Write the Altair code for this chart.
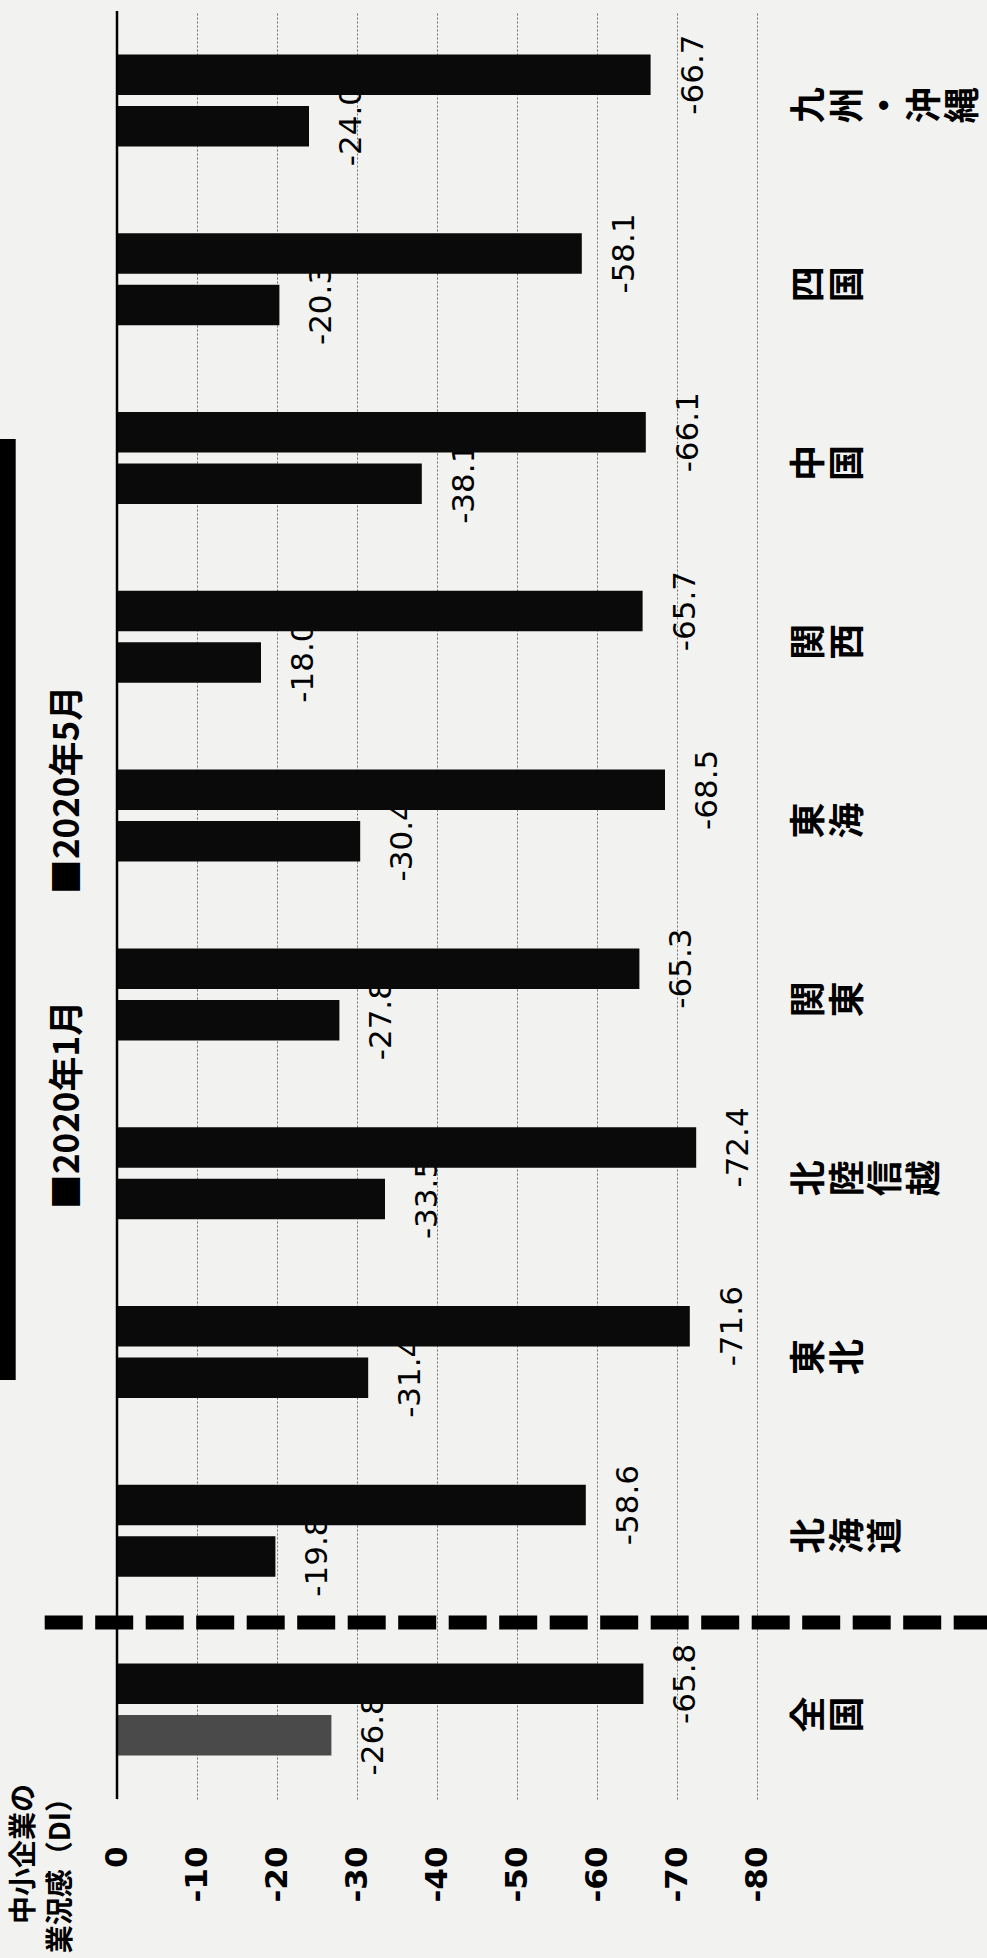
import altair as alt
import pandas as pd

# ---------------- data ----------------
regions = ["全国", "北海道", "東北", "北陸信越", "関東", "東海", "関西", "中国", "四国", "九州・沖縄"]
series_names = ["2020年1月", "2020年5月"]
jan_values = [-26.8, -19.8, -31.4, -33.5, -27.8, -30.4, -18.0, -38.1, -20.3, -24.0]
may_values = [-65.8, -58.6, -71.6, -72.4, -65.3, -68.5, -65.7, -66.1, -58.1, -66.7]
x_ticks = [0, -10, -20, -30, -40, -50, -60, -70, -80]
axis_title_lines = ["中小企業の", "業況感（DI）"]

rows = []
for r, a, b in zip(regions, jan_values, may_values):
    rows.append({"region": r, "series": series_names[0], "v": a, "label": f"{a:.1f}"})
    rows.append({"region": r, "series": series_names[1], "v": b, "label": f"{b:.1f}"})
df = pd.DataFrame(rows)

char_rows = [{"region": r, "ch": c, "i": i} for r in regions for i, c in enumerate(r)]
cdf = pd.DataFrame(char_rows)

# ---------------- layout ----------------
W, H = 640, 1788
BG = "#f2f2f0"
JP = "Noto Sans CJK JP"
order = list(reversed(regions))

y_scale = alt.Scale(domain=order, paddingInner=0.4855, paddingOuter=0.2427)
y_enc = alt.Y("region:N", scale=y_scale, axis=None)
yoff = alt.YOffset("series:N", scale=alt.Scale(domain=[series_names[1], series_names[0]], paddingInner=0.214))

x_axis = alt.Axis(
    values=x_ticks, grid=True, gridColor="#6a6a6a", gridDash=[2, 2], gridWidth=1,
    domain=False, ticks=False, tickSize=0, labelAngle=270, labelAlign="right",
    labelBaseline="middle", labelFont="DejaVu Sans", labelFontSize=31,
    labelFontWeight="bold", labelColor="#000", labelPadding=47,
    labelExpr="'' + datum.value", title=None,
)
x_enc = alt.X("v:Q", scale=alt.Scale(domain=[0, -80], nice=False, zero=False), axis=x_axis)

base = alt.Chart(df)

value_labels = base.mark_text(
    angle=270, align="center", baseline="middle", dy=43,
    font="DejaVu Sans", fontSize=31, color="#000",
).encode(x=x_enc, y=y_enc, yOffset=yoff, text="label:N")

bars = base.mark_bar().encode(
    x=x_enc, y=y_enc, yOffset=yoff,
    color=alt.condition(
        f"datum.region == '{regions[0]}' && datum.series == '{series_names[0]}'",
        alt.value("#4a4a4a"), alt.value("#0a0a0a"),
    ),
)

baseline = alt.Chart(pd.DataFrame({"v": [0]})).mark_rule(color="#000", strokeWidth=2.5).encode(x=x_enc)

dashed = alt.Chart(pd.DataFrame({"v": [0]})).mark_rule(
    color="#000", strokeWidth=14, strokeDash=[38, 12.5]
).encode(x=alt.value(-72.3), x2=alt.value(870), y=alt.value(1611.4))

cat_labels = alt.Chart(cdf).transform_calculate(
    px=f"{W} + 53 + datum.i * 38.5"
).mark_text(
    angle=270, align="center", baseline="middle",
    font=JP, fontSize=36, fontWeight="bold", color="#000",
).encode(
    x=alt.X("px:Q", scale=None),
    y=alt.Y("region:N", scale=y_scale, axis=None, bandPosition=0.554),
    text="ch:N",
)

legend_y = [1094, 779]
legend_layers = []
for name, ly in zip(series_names, legend_y):
    legend_layers.append(
        alt.Chart(pd.DataFrame({"t": ["■" + name]})).mark_text(
            angle=270, align="center", baseline="middle",
            font=JP, fontSize=35, fontWeight="bold", color="#000",
        ).encode(x=alt.value(-49), y=alt.value(ly), text="t:N")
    )

title_x = [-92.3, -55.3]
title_layers = []
for line, tx in zip(axis_title_lines, title_x):
    title_layers.append(
        alt.Chart(pd.DataFrame({"t": [line]})).mark_text(
            angle=270, align="right", baseline="middle",
            font=JP, fontSize=28, fontWeight="bold", color="#000",
        ).encode(x=alt.value(tx), y=alt.value(1773), text="t:N")
    )

band = alt.Chart(pd.DataFrame({"v": [0]})).mark_rect(color="#000").encode(
    x=alt.value(-117.3), x2=alt.value(-101.3), y=alt.value(428), y2=alt.value(1369)
)

chart = alt.layer(
    dashed, value_labels, bars, baseline, cat_labels, *legend_layers, *title_layers, band
).properties(
    width=W, height=H,
    padding={"left": 117, "top": 11, "right": 230, "bottom": 159},
    autosize=alt.AutoSizeParams(type="none"),
    background=BG,
).configure_view(stroke=None)

chart.save("out.html", embed_options={"renderer": "svg", "actions": False})
